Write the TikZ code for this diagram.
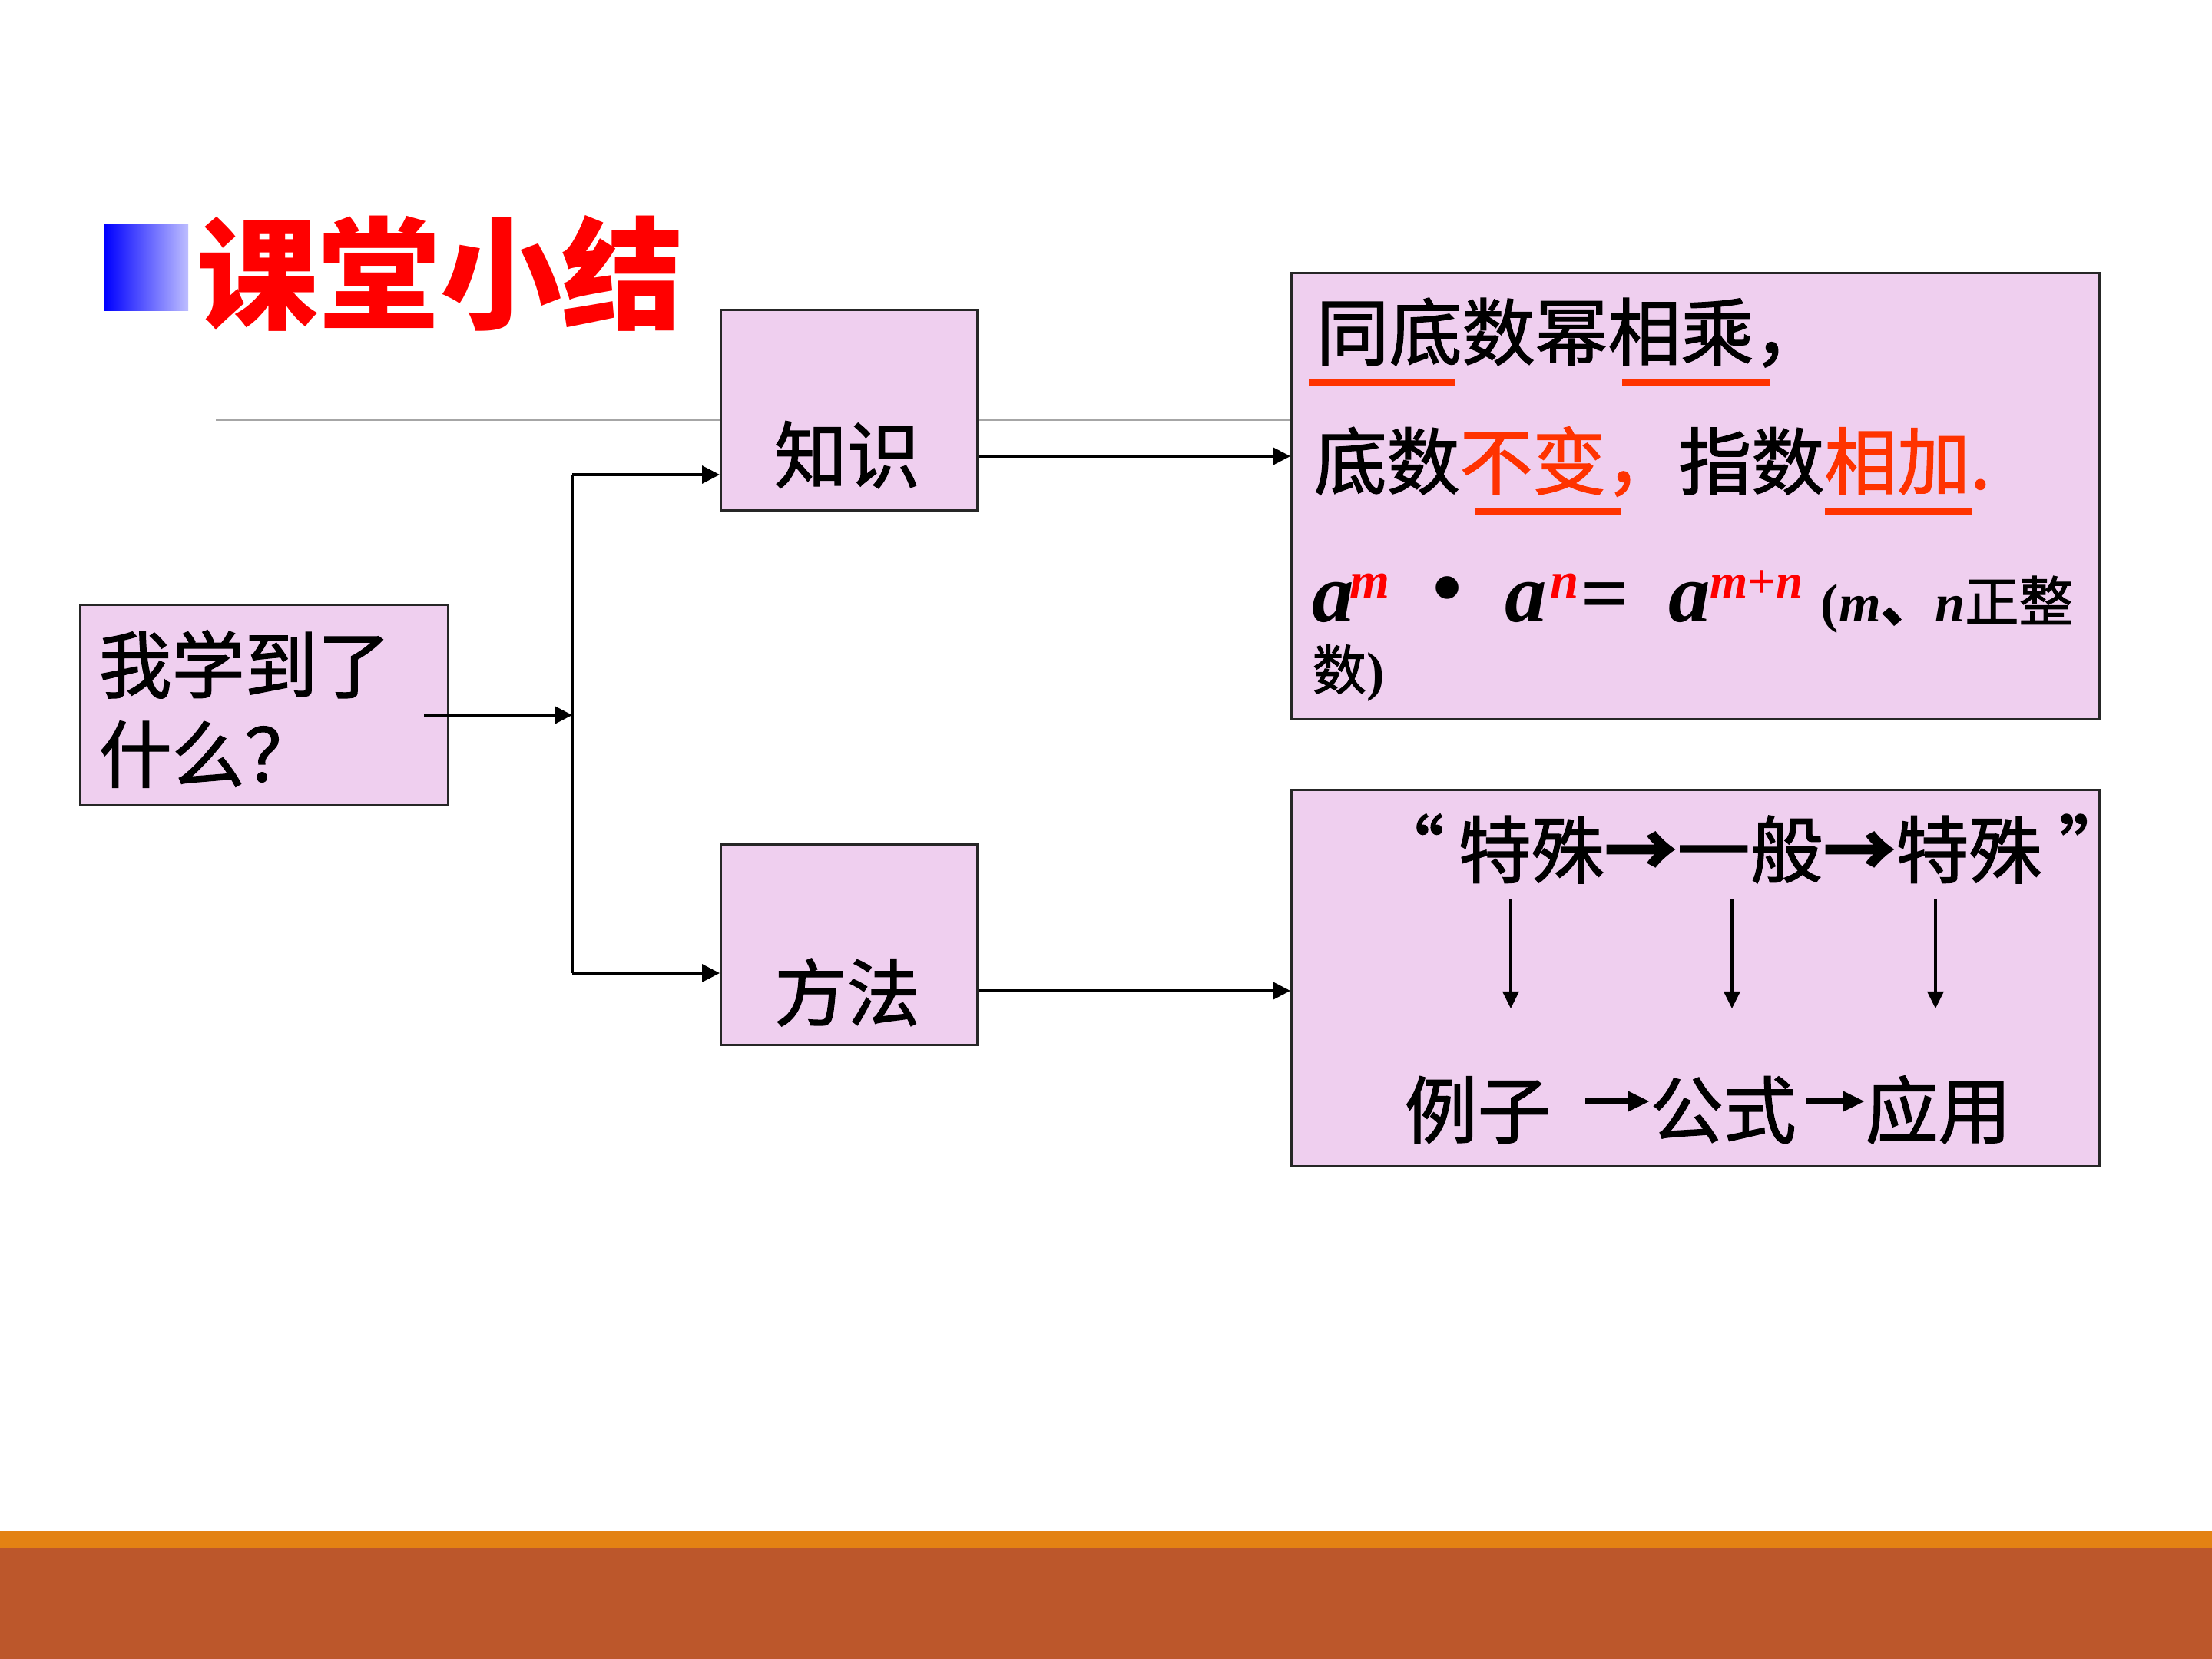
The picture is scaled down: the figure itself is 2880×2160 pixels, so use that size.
\documentclass[tikz,border=0pt]{standalone}
\usepackage{fontspec}
\setmainfont{Liberation Serif}
\newfontfamily\cjk[FakeBold=1.5]{Noto Sans CJK SC}
\newfontfamily\cjkt{Noto Sans CJK SC}
\usetikzlibrary{arrows.meta}
\definecolor{boxfill}{RGB}{239,207,239}
\definecolor{ulred}{RGB}{255,51,0}
\definecolor{bandorange}{RGB}{227,130,19}
\definecolor{bandbrown}{RGB}{188,87,43}
\definecolor{lightblue}{RGB}{190,190,255}
\begin{document}
\begin{tikzpicture}[x=0.01cm,y=-0.01cm,
  box/.style={draw=black!85, line width=0.85pt, fill=boxfill, inner sep=0pt, anchor=north west},
  tx/.style={inner sep=0pt, font=\cjk\fontsize{27}{32}\selectfont},
  small/.style={inner sep=0pt, font=\fontsize{20}{24}\selectfont\bfseries},
  biga/.style={inner sep=0pt, anchor=base west, font=\fontsize{31}{36}\selectfont\bfseries\itshape},
  supr/.style={inner sep=0pt, anchor=base west, text=red, font=\fontsize{19}{22}\selectfont\bfseries\itshape},
  conn/.style={line width=0.9pt, -{Triangle[length=6.5pt,width=6.5pt]}},
  downarr/.style={line width=0.9pt, -{Triangle[length=6.3pt,width=6pt]}},
  glypharr/.style={line width=2pt, -{Triangle[length=8pt,width=7pt]}},
  uline/.style={ulred, line width=2.8pt}]
\useasboundingbox (0,0) rectangle (2880,2160);
\fill[white] (0,0) rectangle (2880,2160);
% bottom band
\fill[bandorange] (0,1993) rectangle (2880,2016);
\fill[bandbrown] (0,2016) rectangle (2880,2160);
% title
\shade[left color=blue, right color=lightblue] (136,292) rectangle (245,404);
\node[anchor=west, inner sep=0pt, text=red, font=\cjkt\bfseries\fontsize{45}{54}\selectfont] (title) at (256,356) {课堂小结};
% grey rule
\draw[gray!70, line width=0.6pt] (281,547) -- (1680,547);
% boxes
\node[box, minimum width=4.79cm, minimum height=2.61cm] (wx) at (103,786) {};
\node[box, minimum width=3.34cm, minimum height=2.61cm] (zs) at (937,402) {};
\node[box, minimum width=3.34cm, minimum height=2.61cm] (ff) at (937,1098) {};
\node[box, minimum width=10.51cm, minimum height=5.81cm] (kb) at (1680,354) {};
\node[box, minimum width=10.51cm, minimum height=4.90cm] (mb) at (1680,1027) {};
% left box text
\node[tx, anchor=west] (wx1) at (128,865) {我学到了};
\node[tx, anchor=west] (wx2) at (128,982) {什么？};
\node[tx] (zst) at (1103,592) {知识};
\node[tx] (fft) at (1103,1292) {方法};
% connectors
\coordinate (s) at (552,931);
\coordinate (j) at (745,931);
\coordinate (jt) at (745,618);
\coordinate (jb) at (745,1267);
\draw[conn] (s) -- (j);
\draw[line width=0.9pt] (jt) -- (jb);
\draw[conn] (jt) -- (jt -| zs.west);
\draw[conn] (jb) -- (jb -| ff.west);
\coordinate (ko) at (1271,594);
\coordinate (fo) at (1271,1290);
\draw[conn] (zs.east |- ko) -- (kb.west |- ko);
\draw[conn] (ff.east |- fo) -- (mb.west |- fo);
% knowledge box text
\node[tx, anchor=west] (k1) at (1713,433) {同底数幂相乘，};
\node[tx, anchor=west] (k2) at (1710,601) {底数{\color{ulred}不变，}指数{\color{ulred}相加.}};
\draw[uline] (1704,498) -- (1895,498);
\draw[uline] (2112,498) -- (2304,498);
\draw[uline] (1920,666) -- (2111,666);
\draw[uline] (2376,666) -- (2567,666);
\node[biga] (a1) at (1708,809) {a};
\node[supr] (s1) at (1757,778) {m};
\node[inner sep=0pt, font=\fontsize{31}{36}\selectfont\bfseries] (dot) at (1885,776) {•};
\node[biga] (a2) at (1959,809) {a};
\node[supr] (s2) at (2018,778) {n};
\node[inner sep=0pt, anchor=base west, font=\fontsize{31}{36}\selectfont\bfseries] (eq) at (2058,809) {=};
\node[biga] (a3) at (2172,809) {a};
\node[supr, font=\fontsize{18}{21}\selectfont\bfseries\itshape] (s3) at (2226,778) {m+n};
\node[small, anchor=base west] (cond) at (2370,809) {(\textit{m}{\cjk 、}\textit{n}{\cjk\mdseries 正整}};
\node[small, anchor=west] (cond2) at (1708,876) {{\cjk\mdseries 数})};
% method box text
\node[tx, anchor=west] (q1) at (1785,1100) {“};
\node[tx, anchor=west] (m1) at (1898,1106) {特殊{\bfseries →}一般{\bfseries →}特殊};
\node[tx, anchor=west] (q2) at (2680,1100) {”};
\coordinate (d1s) at (1967,1171); \coordinate (d1e) at (1967,1313);
\coordinate (d2s) at (2255,1171); \coordinate (d2e) at (2255,1313);
\coordinate (d3s) at (2520,1171); \coordinate (d3e) at (2520,1313);
\draw[downarr] (d1s) -- (d1e);
\draw[downarr] (d2s) -- (d2e);
\draw[downarr] (d3s) -- (d3e);
\node[tx, anchor=west] (lz) at (1828,1445) {例子};
\node[tx, anchor=west] (gs) at (2148,1445) {公式};
\node[tx, anchor=west] (yy) at (2428,1445) {应用};
\draw[glypharr, shorten <=0.45cm] ([yshift=0.11cm]lz.east) -- ([yshift=0.11cm]gs.west);
\draw[glypharr, shorten <=0.13cm] ([yshift=0.11cm]gs.east) -- ([yshift=0.11cm]yy.west);
\end{tikzpicture}
\end{document}
